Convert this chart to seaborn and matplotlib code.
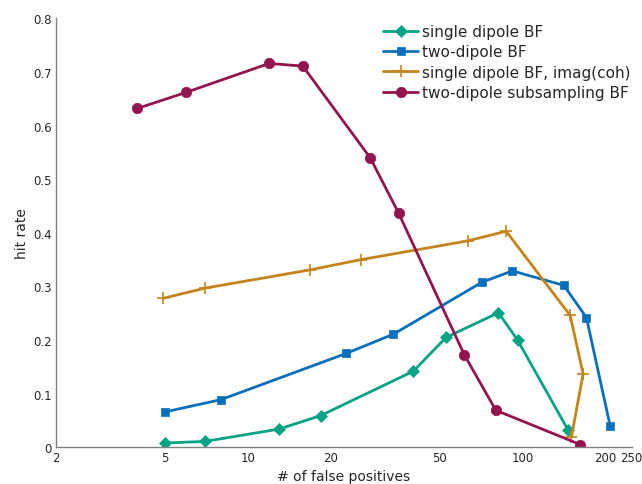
import numpy as np
import pandas as pd
import matplotlib
matplotlib.use("Agg")
import matplotlib.pyplot as plt
import seaborn as sns

# values
single_x = [5.0, 7.0, 13.0, 18.4, 40.1, 52.7, 81.8, 96.0, 146.3]
single_y = [0.008, 0.011, 0.034, 0.059, 0.142, 0.205, 0.251, 0.200, 0.033]

two_x = [5.0, 8.0, 22.8, 33.9, 71.3, 91.9, 141.5, 171.0, 208.6]
two_y = [0.066, 0.089, 0.175, 0.211, 0.308, 0.329, 0.302, 0.242, 0.040]

imag_x = [4.93, 7.0, 16.9, 25.8, 63.2, 87.2, 149.2, 166.3, 150.8]
imag_y = [0.278, 0.297, 0.331, 0.350, 0.385, 0.403, 0.246, 0.137, 0.019]

sub_x = [3.96, 5.96, 11.96, 15.86, 27.9, 35.4, 61.5, 80.0, 162.6]
sub_y = [0.632, 0.662, 0.716, 0.711, 0.540, 0.437, 0.172, 0.069, 0.005]

names = ["single dipole BF", "two-dipole BF",
         "single dipole BF, imag(coh)", "two-dipole subsampling BF"]
colors = ["#04a383", "#0a6fbd", "#c4841c", "#93154f"]
marks = ["D", "s", "+", "o"]
msizes = [6, 6, 8, 7.5]

frames = []
for name, xs, ys in zip(names, [single_x, two_x, imag_x, sub_x],
                        [single_y, two_y, imag_y, sub_y]):
    frames.append(pd.DataFrame({"fp": xs, "hit": ys, "method": name}))
df = pd.concat(frames, ignore_index=True)

sns.set_style("white")
plt.rcParams["font.family"] = ["DejaVu Sans"]

fig, ax = plt.subplots(figsize=(6.42, 4.85), dpi=100)
fig.subplots_adjust(left=0.087, right=0.984, top=0.960, bottom=0.0757)

for name, c, m, ms in zip(names, colors, marks, msizes):
    d = df[df["method"] == name]
    sns.lineplot(data=d, x="fp", y="hit", ax=ax, sort=False, estimator=None,
                 color=c, marker=m, markersize=ms, linewidth=2,
                 markeredgecolor=c, markeredgewidth=1.2 if m == "+" else 0.5,
                 label=name)

ax.set_xscale("log")
ax.set_xlim(2, 250)
ax.set_ylim(0, 0.8)
ax.set_xticks([2, 5, 10, 20, 50, 100, 200, 250])
ax.set_xticklabels(["2", "5", "10", "20", "50", "100", "200", "250"])
ax.xaxis.set_minor_locator(matplotlib.ticker.NullLocator())
ax.set_yticks([0, 0.1, 0.2, 0.3, 0.4, 0.5, 0.6, 0.7, 0.8])
ax.set_yticklabels(["0", "0.1", "0.2", "0.3", "0.4", "0.5", "0.6", "0.7", "0.8"])

ax.set_xlabel("# of false positives", fontsize=10, color="#262626", labelpad=3)
ax.set_ylabel("hit rate", fontsize=10, color="#262626", labelpad=3)

for s in ["top", "right"]:
    ax.spines[s].set_visible(False)
for s in ["left", "bottom"]:
    ax.spines[s].set_color("#808080")
    ax.spines[s].set_linewidth(1)
ax.tick_params(direction="in", length=5, width=1, colors="#808080",
               labelcolor="#262626", labelsize=8.5, pad=3)

leg = ax.legend(loc="upper right", bbox_to_anchor=(1.0156, 1.012), frameon=False,
                fontsize=11, handlelength=2.3, handletextpad=0.2,
                borderaxespad=0.3, labelspacing=0.35)

fig.savefig("out.png", dpi=100)
